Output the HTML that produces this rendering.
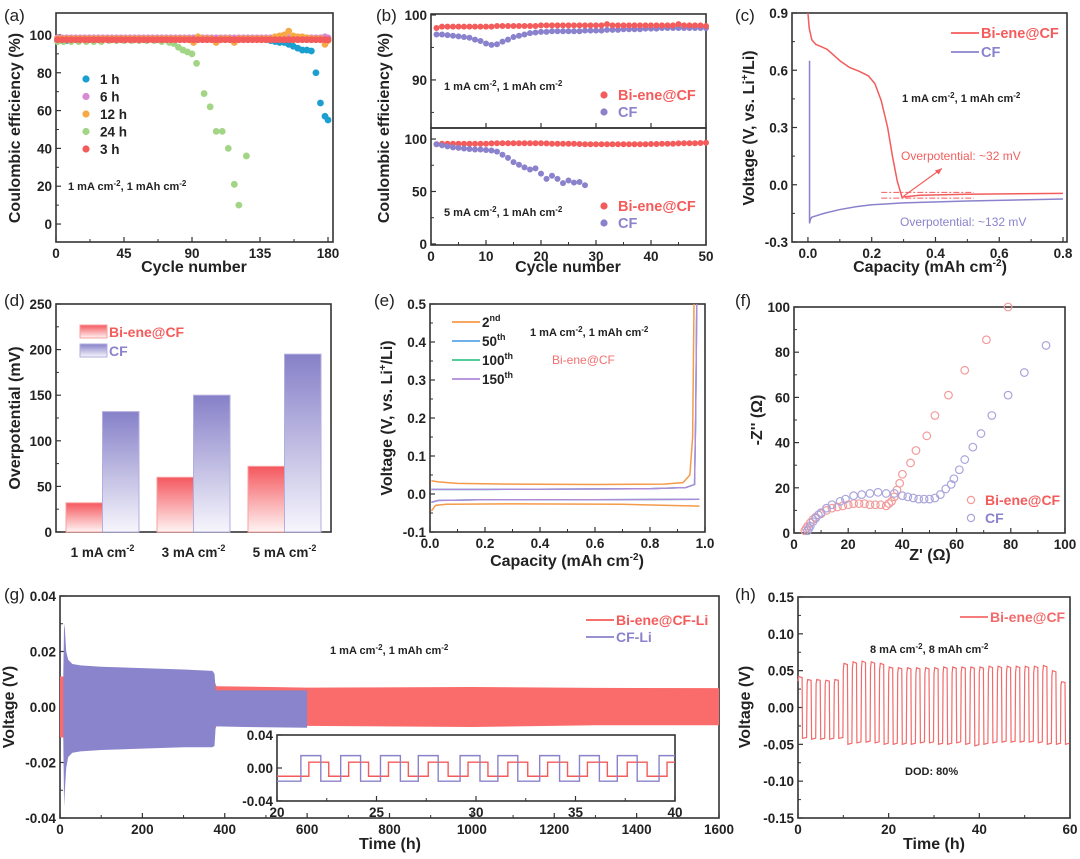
<!DOCTYPE html>
<html><head><meta charset="utf-8"><style>
html,body{margin:0;padding:0;background:#fff;}
svg{display:block;font-family:"Liberation Sans",Arial,sans-serif;}
.t{font-weight:bold;font-size:13.5px;fill:#222;}
.ttl{font-weight:bold;font-size:16px;fill:#222;}
.pl{font-size:17px;fill:#222;}
.an{font-weight:bold;font-size:11px;fill:#222;}
</style></head><body>
<svg id="fig" width="1080" height="859" viewBox="0 0 1080 859" xmlns="http://www.w3.org/2000/svg">
<defs>
<linearGradient id="gr" x1="0" y1="0" x2="0" y2="1"><stop offset="0" stop-color="#f4585e"/><stop offset="1" stop-color="#fff4f4"/></linearGradient>
<linearGradient id="gb" x1="0" y1="0" x2="0" y2="1"><stop offset="0" stop-color="#8680c8"/><stop offset="1" stop-color="#f7f6fc"/></linearGradient>
</defs>
<text class="pl" x="4" y="21">(a)</text>
<text class="pl" x="376" y="21">(b)</text>
<text class="pl" x="735" y="21">(c)</text>
<text class="pl" x="4" y="306">(d)</text>
<text class="pl" x="374" y="306">(e)</text>
<text class="pl" x="735" y="306">(f)</text>
<text class="pl" x="4" y="600">(g)</text>
<text class="pl" x="735" y="600">(h)</text>
<text class="ttl" x="194" y="272" text-anchor="middle" font-size="17">Cycle number</text>
<text class="ttl" transform="translate(20,128) rotate(-90)" text-anchor="middle">Coulombic efficiency (%)</text>
<text class="ttl" x="568" y="272" text-anchor="middle" font-size="17">Cycle number</text>
<text class="ttl" transform="translate(389,128) rotate(-90)" text-anchor="middle">Coulombic efficiency (%)</text>
<text class="ttl" x="930" y="272" text-anchor="middle" font-size="17">Capacity (mAh cm<tspan dy="-6" font-size="10">-2</tspan><tspan dy="6">)</tspan></text>
<text class="ttl" transform="translate(754,128) rotate(-90)" text-anchor="middle">Voltage (V, vs. Li<tspan dy="-6" font-size="10">+</tspan><tspan dy="6">/Li)</tspan></text>
<text class="ttl" transform="translate(20,418) rotate(-90)" text-anchor="middle">Overpotential (mV)</text>
<text class="ttl" x="567" y="566" text-anchor="middle" font-size="17">Capacity (mAh cm<tspan dy="-6" font-size="10">-2</tspan><tspan dy="6">)</tspan></text>
<text class="ttl" transform="translate(392,418) rotate(-90)" text-anchor="middle">Voltage (V, vs. Li<tspan dy="-6" font-size="10">+</tspan><tspan dy="6">/Li)</tspan></text>
<text class="ttl" x="930" y="560" text-anchor="middle" font-size="17">Z' (Ω)</text>
<text class="ttl" transform="translate(762,420) rotate(-90)" text-anchor="middle">-Z'' (Ω)</text>
<text class="ttl" x="390" y="849" text-anchor="middle" font-size="17">Time (h)</text>
<text class="ttl" transform="translate(14,707) rotate(-90)" text-anchor="middle">Voltage (V)</text>
<text class="ttl" x="934" y="849" text-anchor="middle" font-size="17">Time (h)</text>
<text class="ttl" transform="translate(750,707) rotate(-90)" text-anchor="middle">Voltage (V)</text>
<text class="an" x="68" y="190">1 mA cm<tspan dy="-4" font-size="8">-2</tspan><tspan dy="4">, 1 mAh cm</tspan><tspan dy="-4" font-size="8">-2</tspan></text>
<text class="an" x="444" y="90">1 mA cm<tspan dy="-4" font-size="8">-2</tspan><tspan dy="4">, 1 mAh cm</tspan><tspan dy="-4" font-size="8">-2</tspan></text>
<text class="an" x="444" y="216">5 mA cm<tspan dy="-4" font-size="8">-2</tspan><tspan dy="4">, 1 mAh cm</tspan><tspan dy="-4" font-size="8">-2</tspan></text>
<text class="an" x="902" y="102">1 mA cm<tspan dy="-4" font-size="8">-2</tspan><tspan dy="4">, 1 mAh cm</tspan><tspan dy="-4" font-size="8">-2</tspan></text>
<text class="an" x="901" y="160" style="fill:#f06060;font-weight:normal;font-size:12px">Overpotential: ~32 mV</text>
<text class="an" x="900" y="226" style="fill:#8a82cc;font-weight:normal;font-size:12px">Overpotential: ~132 mV</text>
<text class="an" x="530" y="336">1 mA cm<tspan dy="-4" font-size="8">-2</tspan><tspan dy="4">, 1 mAh cm</tspan><tspan dy="-4" font-size="8">-2</tspan></text>
<text class="an" x="552" y="364" style="fill:#f27070;font-weight:normal;font-size:12px">Bi-ene@CF</text>
<text class="an" x="330" y="654">1 mA cm<tspan dy="-4" font-size="8">-2</tspan><tspan dy="4">, 1 mAh cm</tspan><tspan dy="-4" font-size="8">-2</tspan></text>
<text class="an" x="870" y="653">8 mA cm<tspan dy="-4" font-size="8">-2</tspan><tspan dy="4">, 8 mAh cm</tspan><tspan dy="-4" font-size="8">-2</tspan></text>
<text class="an" x="905" y="775">DOD: 80%</text>
</svg>
<script>
const NS='http://www.w3.org/2000/svg';
const svg=document.getElementById('fig');
function el(tag,attrs,parent){const e=document.createElementNS(NS,tag);for(const k in attrs)e.setAttribute(k,attrs[k]);(parent||svg).appendChild(e);return e;}
function lin(d0,d1,r0,r1){return v=>r0+(v-d0)/(d1-d0)*(r1-r0);}

/* ---------- DATA ---------- */
const aCycles=[1,4,7,10,13,16,19,22,25,28,31,34,37,40,43,46,49,52,55,58,61,64,67,70,73,76,79,82,85,88,91,94,97,100,103,106,109,112,115,118,121,124,127,130,133,136,139,142,145,148,151,154,157,160,163,166,169,172,175,178,180];
const a1h=[97,97,97,98,98,98,98,98,98,98,98,98,98,98,98,98,98,98,98,98,98,98,98,98,98,98,98,98,98,98,98,98,98,98,98,98,98,98,98,98,98,98,98,98,98,98,97.5,97,96.5,96,96,95,94,93,92,92,91.5,80,64,57,55];
const a6h=[98.5,98.5,98.5,98.5,98.5,98.5,98.5,98.5,98.5,98.5,98.5,98.5,98.5,98.5,98.5,98.5,98.5,98.5,98.5,98.5,98.5,98.5,98.5,98.5,98.5,98.5,98.5,98.5,98.5,98.5,98.5,98.5,98.5,98.5,98.5,98.5,98.5,98.5,98.5,98.5,98.5,98.5,98.5,98.5,98.5,98.5,98.5,98.5,98.5,98.5,98.5,98.5,98.5,98.5,98.5,98.5,98.5,98.5,98.5,99,98.5];
const a12h=[98,98,98,98,98,98,98,98,98,98,98,98,98,98,98,98,98,98,98,98,98,98,98,98,98,98,98,98,98,98,96,99,98,98,98,96,98,98,98,96,98,98,98,98,98,98,98,98,99,99.5,100,102,99.5,99,99,98.5,98,98,98,95,97];
const a24Cycles=[1,5,10,15,20,25,30,35,40,45,50,55,60,65,70,75,78,81,84,87,90,93,98,102,106,110,114,118,121,126];
const a24h=[96.5,96.5,96.5,96.5,96.5,96.5,96.5,97,97,97,97,97,97,97,96.5,96,95.5,93.5,92,91,90,85,69,62,49,49,40,21,10,36];
const a3h=[97.5,97.5,97.5,97.5,97.5,97.5,97.5,97.5,97.5,97.5,97.5,97.5,97.5,97.5,97.5,97.5,97.5,97.5,97.5,97.5,97.5,97.5,97.5,97.5,97.5,97.5,97.5,97.5,97.5,97.5,97.5,97.5,97.5,97.5,97.5,97.5,97.5,97.5,97.5,97.5,97.5,97.5,97.5,97.5,97.5,97.5,97.5,97.5,97.5,97.5,97.5,97.5,97.5,97.5,97.5,97.5,97.5,97.5,97.5,97.5,97.5];
const bCycles=[1,2,3,4,5,6,7,8,9,10,11,12,13,14,15,16,17,18,19,20,21,22,23,24,25,26,27,28,29,30,31,32,33,34,35,36,37,38,39,40,41,42,43,44,45,46,47,48,49,50];
const bTopBi=[98,98.2,98.2,98.2,98.2,98.2,98.2,98.2,98.2,98.2,98.2,98.3,98.3,98.3,98.3,98.3,98.3,98.3,98.3,98.4,98.4,98.4,98.4,98.4,98.4,98.4,98.4,98.4,98.4,98.4,98.4,98.6,98.4,98.4,98.4,98.4,98.4,98.4,98.4,98.4,98.4,98.4,98.4,98.4,98.6,98.4,98.4,98.4,98.4,98.3];
const bTopCF=[97,97,96.9,96.8,96.7,96.6,96.5,96.2,96,95.6,95.4,95.5,95.9,96.2,96.6,96.8,97,97.2,97.3,97.4,97.4,97.5,97.5,97.5,97.5,97.5,97.5,97.6,97.6,97.6,97.6,97.7,97.7,97.7,97.8,97.8,97.8,97.8,97.9,97.9,97.9,98,98,98,98,98,98,98,98,98];
const bBotBi=[95,95.5,95.5,95.5,95.5,95.5,95.5,95.5,95.5,95.5,95.8,96,96,96,96,96,96,96,96,96,95.8,95.5,95.5,95.5,95.5,95.5,95.2,95,95,95,95,95,95,95,95,95,95,95,95,95.2,95.3,95.5,95.5,95.5,95.8,96,96,96,96.2,96.5];
const bBotCFCycles=[1,2,3,4,5,6,7,8,9,10,11,12,13,14,15,16,17,18,19,20,21,22,23,24,25,26,27,28];
const bBotCF=[95,94,93,92,91.5,91,90.5,90,90,89.5,89,88,85,82,78,75.5,73,71,72,67,62,65,62,58,60.5,58.5,59,56];
const cBiX=[0,0.004,0.012,0.025,0.04,0.06,0.08,0.1,0.13,0.16,0.19,0.21,0.23,0.25,0.265,0.28,0.295,0.31,0.35,0.5,0.8];
const cBiY=[0.9,0.82,0.76,0.735,0.725,0.71,0.68,0.65,0.615,0.595,0.57,0.53,0.44,0.3,0.15,0.02,-0.065,-0.062,-0.055,-0.05,-0.045];
const cCfX=[0.005,0.005,0.008,0.012,0.05,0.1,0.15,0.2,0.3,0.5,0.8];
const cCfY=[0.65,-0.2,-0.18,-0.17,-0.15,-0.13,-0.115,-0.105,-0.095,-0.085,-0.075];
const dCategories=['1','3','5'];
const dBi=[32,60,72];
const dCF=[132,150,195];
const eOrUpX=[0.005,0.03,0.1,0.3,0.6,0.85,0.92,0.945,0.955,0.96];
const eOrUpY=[0.035,0.032,0.028,0.026,0.025,0.026,0.03,0.05,0.15,0.5];
const eOrLoX=[0.005,0.02,0.06,0.3,0.7,0.98];
const eOrLoY=[-0.045,-0.03,-0.027,-0.026,-0.027,-0.032];
const eUpX=[0.005,0.2,0.5,0.8,0.93,0.962,0.966,0.97];
const eUpY=[0.012,0.012,0.013,0.014,0.017,0.025,0.2,0.5];
const eLoX=[0.005,0.03,0.2,0.6,0.98];
const eLoY=[-0.022,-0.017,-0.015,-0.015,-0.014];
const fBiX=[4,4.5,5,6,7,8,10,12,14,16,18,20,22,24,26,28,30,32,34,35,36,37,38,39,40,43,45,49,52,57,63,71,79];
const fBiY=[1,2,3,4.5,6,7,8.5,10,11,11.5,12,12.5,13,13,13,12.5,12.5,12.5,12,13,14,16,19,22,26,31,36.5,43,52,61,72,85.5,100];
const fCfX=[5,5.5,6,7,8,9,10,12,14,17,19,22,25,28,31,34,37,40,42,44,46,48,50,52,54,56,58,59,61,63,66,69,73,79,85,93];
const fCfY=[1,2,3,5,6.5,8,9,11,12.5,14,15,16.5,17,17.5,18,17.5,17.5,16.5,16,15.5,15,15,15,15.5,17,19.5,21.5,24,28,32.5,38,44,52,61,71,83];
const gCfT=[8,10,12,15,20,30,50,100,200,300,370,375,378,450,600];
const gCfTop=[0.012,0.03,0.028,0.02,0.017,0.0155,0.015,0.0145,0.014,0.0135,0.013,0.012,0.006,0.006,0.006];
const gCfBot=[-0.012,-0.036,-0.03,-0.022,-0.018,-0.0165,-0.016,-0.0155,-0.015,-0.0145,-0.0145,-0.014,-0.007,-0.0072,-0.0075];
const gBiT=[0,370,380,600,1000,1300,1600];
const gBiTop=[0.011,0.011,0.0075,0.007,0.0072,0.0069,0.0068];
const gBiBot=[-0.011,-0.011,-0.0068,-0.0068,-0.0072,-0.0066,-0.0066];
const gInBlueRise=[21.2,23.2,25.2,27.1,29.2,31.1,33.2,35.2,37.1,39.2];
const gInRedRise=[21.6,23.6,25.6,27.6,29.6,31.6,33.6,35.6,37.6,39.6];
const gInBlueHi=0.015, gInBlueLo=-0.016, gInRedHi=0.007, gInRedLo=-0.01;
const hHigh=[0.042,0.038,0.038,0.037,0.038,0.06,0.062,0.063,0.062,0.06,0.055,0.054,0.054,0.054,0.054,0.054,0.055,0.055,0.055,0.055,0.055,0.056,0.056,0.056,0.056,0.056,0.056,0.057,0.05,0.035];
const hLow=[-0.042,-0.043,-0.043,-0.043,-0.042,-0.05,-0.048,-0.047,-0.048,-0.05,-0.05,-0.05,-0.05,-0.048,-0.048,-0.05,-0.05,-0.048,-0.05,-0.052,-0.05,-0.048,-0.047,-0.047,-0.047,-0.047,-0.048,-0.05,-0.05,-0.05];

function axes(id,P,xt,yt,xminor,yminor,fmtX,fmtY,opt){
  opt=opt||{};
  const sx=lin(P.xmin,P.xmax,P.x0,P.x1), sy=lin(P.ymin,P.ymax,P.y1,P.y0);
  const g=el('g',{});
  
  
  const fs=opt.fs||13.5;
  if(xt) xt.forEach(v=>{const x=sx(v);el('line',{x1:x,x2:x,y1:P.y1,y2:P.y1-5,stroke:'#333','stroke-width':1.2},g);
    if(!opt.noXLab){const t=el('text',{x:x,y:P.y1+16,'text-anchor':'middle',class:'t','font-size':fs},g);t.textContent=fmtX(v);
    
    }});
  if(xminor) xminor.forEach(v=>{const x=sx(v);el('line',{x1:x,x2:x,y1:P.y1,y2:P.y1-3,stroke:'#333','stroke-width':1},g);});
  if(yt) yt.forEach(v=>{const y=sy(v);el('line',{x1:P.x0,x2:P.x0+5,y1:y,y2:y,stroke:'#333','stroke-width':1.2},g);
    const t=el('text',{x:P.x0-4,y:y+5,'text-anchor':'end',class:'t','font-size':fs},g);t.textContent=fmtY(v);
    
    });
  if(yminor) yminor.forEach(v=>{const y=sy(v);el('line',{x1:P.x0,x2:P.x0+3,y1:y,y2:y,stroke:'#333','stroke-width':1},g);});
  const r=el('rect',{x:P.x0,y:P.y0,width:P.x1-P.x0,height:P.y1-P.y0,fill:'none',stroke:'#333','stroke-width':1.6});
  
  
  return {sx,sy};
}
function dots(xs,ys,sx,sy,color,r,name){
  const g=el('g',{});
  
  
  xs.forEach((x,i)=>{const c=el('circle',{cx:sx(x),cy:sy(ys[i]),r:r,fill:color},g);
    
    });
}
function line(xs,ys,sx,sy,color,w,name){
  const d=xs.map((x,i)=>(i?'L':'M')+sx(x).toFixed(2)+' '+sy(ys[i]).toFixed(2)).join(' ');
  const p=el('path',{d:d,fill:'none',stroke:color,'stroke-width':w||1.5,'stroke-linejoin':'round'});
  
  
  return p;
}
function legLine(x,y,color,label,name,fs){
  const l=el('line',{x1:x,x2:x+28,y1:y,y2:y,stroke:color,'stroke-width':1.8});
  
  
  const t=el('text',{x:x+30,y:y+5,'font-size':fs||14,fill:color,'font-weight':'bold'});t.textContent=label;
  
  
}
function legDot(x,y,color,label,name,fs,tc,open){
  const c=el('circle',{cx:x,cy:y,r:3.6,fill:open?'none':color,stroke:open?color:'none','stroke-width':1.2});
  
  
  const t=el('text',{x:x+14,y:y+5,'font-size':fs||14,fill:tc||color,'font-weight':'bold'});t.textContent=label;
  
  
}
const RED='#f45b5b', PUR='#8a82cc';

(function(){
  const P={x0:56,x1:333,y0:13,y1:242,xmin:0,xmax:183.3,ymin:-9.5,ymax:111.6};
  const {sx,sy}=axes('a',P,[0,45,90,135,180],[0,20,40,60,80,100],[22.5,67.5,112.5,157.5],[10,30,50,70,90],v=>v,v=>v);
  dots(aCycles,a1h,sx,sy,'#1a9fd0',3.4,'series-1h');
  dots(aCycles,a6h,sx,sy,'#d88ad2',3.4,'series-6h');
  dots(aCycles,a12h,sx,sy,'#f6a945',3.4,'series-12h');
  dots(a24Cycles,a24h,sx,sy,'#a2d585',3.4,'series-24h');
  dots(aCycles,a3h,sx,sy,RED,3.4,'series-3h');
  const L=[['1 h','#1a9fd0'],['6 h','#d88ad2'],['12 h','#f6a945'],['24 h','#a2d585'],['3 h',RED]];
  L.forEach((e,i)=>legDot(86,79+i*17.5,e[1],e[0],'legend-'+e[0].replace(' ',''),13.5,'#222'));
})();

(function(){
  const PT={x0:431,x1:706,y0:14,y1:128,xmin:0,xmax:50,ymin:82.6,ymax:100.15};
  const t=axes('b-top',PT,[0,10,20,30,40,50],[90,100],null,[85,95],v=>v,v=>v,{noXLab:true});
  dots(bCycles,bTopCF,t.sx,t.sy,PUR,3,'b-top-cf');
  dots(bCycles,bTopBi,t.sx,t.sy,RED,3,'b-top-bi-ene');
  const PB={x0:431,x1:706,y0:128,y1:245,xmin:0,xmax:50,ymin:-1,ymax:110.5};
  const b=axes('b-bottom',PB,[0,10,20,30,40,50],[0,50,100],[5,15,25,35,45],[25,75],v=>v,v=>v);
  dots(bCycles,bBotBi,b.sx,b.sy,RED,3,'b-bottom-bi-ene');
  dots(bBotCFCycles,bBotCF,b.sx,b.sy,PUR,3,'b-bottom-cf');
  legDot(604,95,RED,'Bi-ene@CF','b-top-legend-bi',14.5);
  legDot(604,112,PUR,'CF','b-top-legend-cf',14.5);
  legDot(604,206,RED,'Bi-ene@CF','b-bottom-legend-bi',14.5);
  legDot(604,223,PUR,'CF','b-bottom-legend-cf',14.5);
})();

(function(){
  const P={x0:792,x1:1067,y0:13,y1:242,xmin:-0.05,xmax:0.8125,ymin:-0.3,ymax:0.9};
  const {sx,sy}=axes('c',P,[0,0.2,0.4,0.6,0.8],[-0.3,0,0.3,0.6,0.9],[0.1,0.3,0.5,0.7],[-0.15,0.15,0.45,0.75],v=>v.toFixed(1),v=>v.toFixed(1));
  line(cCfX,cCfY,sx,sy,PUR,1.5,'c-cf-curve');
  line(cBiX,cBiY,sx,sy,RED,1.5,'c-bi-ene-curve');
  [-0.04,-0.07].forEach(v=>{const l=el('line',{x1:sx(0.23),x2:sx(0.52),y1:sy(v),y2:sy(v),stroke:RED,'stroke-width':1,'stroke-dasharray':'6 2 2 2'});
    
    });
  const a=el('line',{x1:sx(0.3),y1:sy(-0.06),x2:sx(0.42),y2:sy(0.085),stroke:RED,'stroke-width':1.2});
  
  
  const h=el('path',{d:`M${sx(0.42)} ${sy(0.085)} l-7 2 l4 4 z`,fill:RED});
  
  
  legLine(951,33,RED,'Bi-ene@CF','c-legend-bi',14.5);
  legLine(951,52,PUR,'CF','c-legend-cf',14.5);
})();

(function(){
  const P={x0:56,x1:331,y0:304,y1:532,xmin:0,xmax:3,ymin:0,ymax:250};
  const {sx,sy}=axes('d',P,null,[0,50,100,150,200,250],null,[25,75,125,175,225],v=>v,v=>v);
  const bw=36.5, off=[10,46.5];
  dCategories.forEach((c,i)=>{
    const gx=P.x0+i*91;
    const r1=el('rect',{x:gx+off[0],y:sy(dBi[i]),width:bw,height:sy(0)-sy(dBi[i]),fill:'url(#gr)',stroke:'#f7a0a0','stroke-width':1});
    
    
    const r2=el('rect',{x:gx+off[1],y:sy(dCF[i]),width:bw,height:sy(0)-sy(dCF[i]),fill:'url(#gb)',stroke:'#b3aee0','stroke-width':1});
    
    
    const t=el('text',{x:gx+off[1],y:557,'text-anchor':'middle',class:'t','font-size':14});
    t.innerHTML=c+' mA cm<tspan dy="-6" font-size="9">-2</tspan>';
    
    
  });
  [[RED,'url(#gr)','Bi-ene@CF',332],[PUR,'url(#gb)','CF',351]].forEach((e,i)=>{
    const r=el('rect',{x:80,y:e[3]-7,width:27,height:13,fill:e[1],stroke:i?'#b3aee0':'#f7a0a0'});
    
    
    const t=el('text',{x:109,y:e[3]+5,'font-size':14,'font-weight':'bold',fill:e[0]});t.textContent=e[2];
    
    
  });
})();

(function(){
  const P={x0:430,x1:705,y0:304,y1:532,xmin:0,xmax:1.0,ymin:-0.1,ymax:0.5};
  const {sx,sy}=axes('e',P,[0,0.2,0.4,0.6,0.8,1.0],[-0.1,0,0.1,0.2,0.3,0.4,0.5],[0.1,0.3,0.5,0.7,0.9],[-0.05,0.05,0.15,0.25,0.35,0.45],v=>v.toFixed(1),v=>v.toFixed(1));
  line(eUpX,eUpY,sx,sy,'#3cc68c',1.4,'e-100th-charge');
  line(eLoX,eLoY,sx,sy,'#3cc68c',1.4,'e-100th-discharge');
  line(eUpX,eUpY,sx,sy,'#5ba6e8',1.4,'e-50th-charge');
  line(eLoX,eLoY,sx,sy,'#5ba6e8',1.4,'e-50th-discharge');
  line(eUpX,eUpY,sx,sy,'#b08ad8',1.4,'e-150th-charge');
  line(eLoX,eLoY,sx,sy,'#b08ad8',1.4,'e-150th-discharge');
  line(eOrUpX,eOrUpY,sx,sy,'#f59a4a',1.5,'e-2nd-charge');
  line(eOrLoX,eOrLoY,sx,sy,'#f59a4a',1.5,'e-2nd-discharge');
  [['2','nd','#f59a4a'],['50','th','#5ba6e8'],['100','th','#3cc68c'],['150','th','#b08ad8']].forEach((e,i)=>{
    const y=322+i*19;
    const l=el('line',{x1:452,x2:480,y1:y,y2:y,stroke:e[2],'stroke-width':1.8});
    
    
    const t=el('text',{x:482,y:y+5,'font-size':13.5,'font-weight':'bold',fill:'#222'});
    t.innerHTML=e[0]+'<tspan dy="-6" font-size="9">'+e[1]+'</tspan>';
    
    
  });
})();

(function(){
  const P={x0:794,x1:1065,y0:307,y1:533,xmin:0,xmax:100,ymin:0,ymax:100};
  const {sx,sy}=axes('f',P,[0,20,40,60,80,100],[0,20,40,60,80,100],[10,30,50,70,90],[10,30,50,70,90],v=>v,v=>v);
  const g1=el('g',{fill:'none',stroke:'#f49a9a','stroke-width':1.2});
  
  
  fBiX.forEach((x,i)=>{const c=el('circle',{cx:sx(x),cy:sy(fBiY[i]),r:3.8},g1);
    
    });
  const g2=el('g',{fill:'none',stroke:'#aaa5dc','stroke-width':1.2});
  
  
  fCfX.forEach((x,i)=>{const c=el('circle',{cx:sx(x),cy:sy(fCfY[i]),r:3.8},g2);
    
    });
  legDot(971,500,'#f49a9a','Bi-ene@CF','f-legend-bi',14,RED,true);
  legDot(971,518,'#aaa5dc','CF','f-legend-cf',14,PUR,true);
})();

(function(){
  const P={x0:60,x1:719,y0:596,y1:818,xmin:0,xmax:1600,ymin:-0.04,ymax:0.04};
  const {sx,sy}=axes('g',P,[0,200,400,600,800,1000,1200,1400,1600],[-0.04,-0.02,0,0.02,0.04],[100,300,500,700,900,1100,1300,1500],[-0.03,-0.01,0.01,0.03],v=>v,v=>v.toFixed(2));
  function band(T,top,bot,color,name){
    const d='M'+T.map((t,i)=>sx(t).toFixed(1)+' '+sy(top[i]).toFixed(1)).join(' L')+' L'+T.slice().reverse().map((t,i)=>sx(t).toFixed(1)+' '+sy(bot[T.length-1-i]).toFixed(1)).join(' L')+' Z';
    const p=el('path',{d:d,fill:color});
    
    
  }
  band(gBiT,gBiTop,gBiBot,'#fa6b6b','g-bi-ene-cf-li-band');
  band(gCfT,gCfTop,gCfBot,'#8a84cc','g-cf-li-band');
  legLine(586,620,RED,'Bi-ene@CF-Li','g-legend-bi',14);
  legLine(586,637,PUR,'CF-Li','g-legend-cf',14);
  const I={x0:277,x1:675,y0:735,y1:801,xmin:20,xmax:40,ymin:-0.04,ymax:0.04};
  const bg=el('rect',{x:I.x0,y:I.y0,width:I.x1-I.x0,height:I.y1-I.y0,fill:'#fff'});
  
  
  const s=axes('g-inset',I,[20,25,30,35,40],[-0.04,0,0.04],[22.5,27.5,32.5,37.5],null,v=>v,v=>v.toFixed(2),{fs:9});
  function sq(rise,hi,lo,color,name){
    let d='M'+s.sx(20)+' '+s.sy(lo);
    rise.forEach(r=>{d+=' L'+s.sx(r)+' '+s.sy(lo)+' L'+s.sx(r)+' '+s.sy(hi)+' L'+s.sx(Math.min(r+1,40))+' '+s.sy(hi);if(r+1<40)d+=' L'+s.sx(r+1)+' '+s.sy(lo);});
    const p=el('path',{d:d,fill:'none',stroke:color,'stroke-width':1.4});
    
    
  }
  sq(gInRedRise,gInRedHi,gInRedLo,RED,'g-inset-bi-ene-wave');
  sq(gInBlueRise,gInBlueHi,gInBlueLo,PUR,'g-inset-cf-wave');
})();

(function(){
  const P={x0:798,x1:1070,y0:597,y1:818,xmin:0,xmax:60,ymin:-0.15,ymax:0.15};
  const {sx,sy}=axes('h',P,[0,20,40,60],[-0.15,-0.1,-0.05,0,0.05,0.1,0.15],[10,30,50],[-0.125,-0.075,-0.025,0.025,0.075,0.125],v=>v,v=>v.toFixed(2));
  let d='';
  hHigh.forEach((h,k)=>{const t=2*k;
    d+=(k?' L':'M')+sx(t).toFixed(1)+' '+sy(h*0.85).toFixed(1)+' L'+sx(t+0.15).toFixed(1)+' '+sy(h).toFixed(1)+' L'+sx(t+0.9).toFixed(1)+' '+sy(h*0.97).toFixed(1)+' L'+sx(t+1).toFixed(1)+' '+sy(hLow[k]).toFixed(1)+' L'+sx(t+1.9).toFixed(1)+' '+sy(hLow[k]*0.97).toFixed(1);});
  const p=el('path',{d:d,fill:'none',stroke:'#f26a6a','stroke-width':1.2});
  
  
  legLine(960,617,'#f26a6a','Bi-ene@CF','h-legend-bi',14);
})();
</script>
</body></html>
